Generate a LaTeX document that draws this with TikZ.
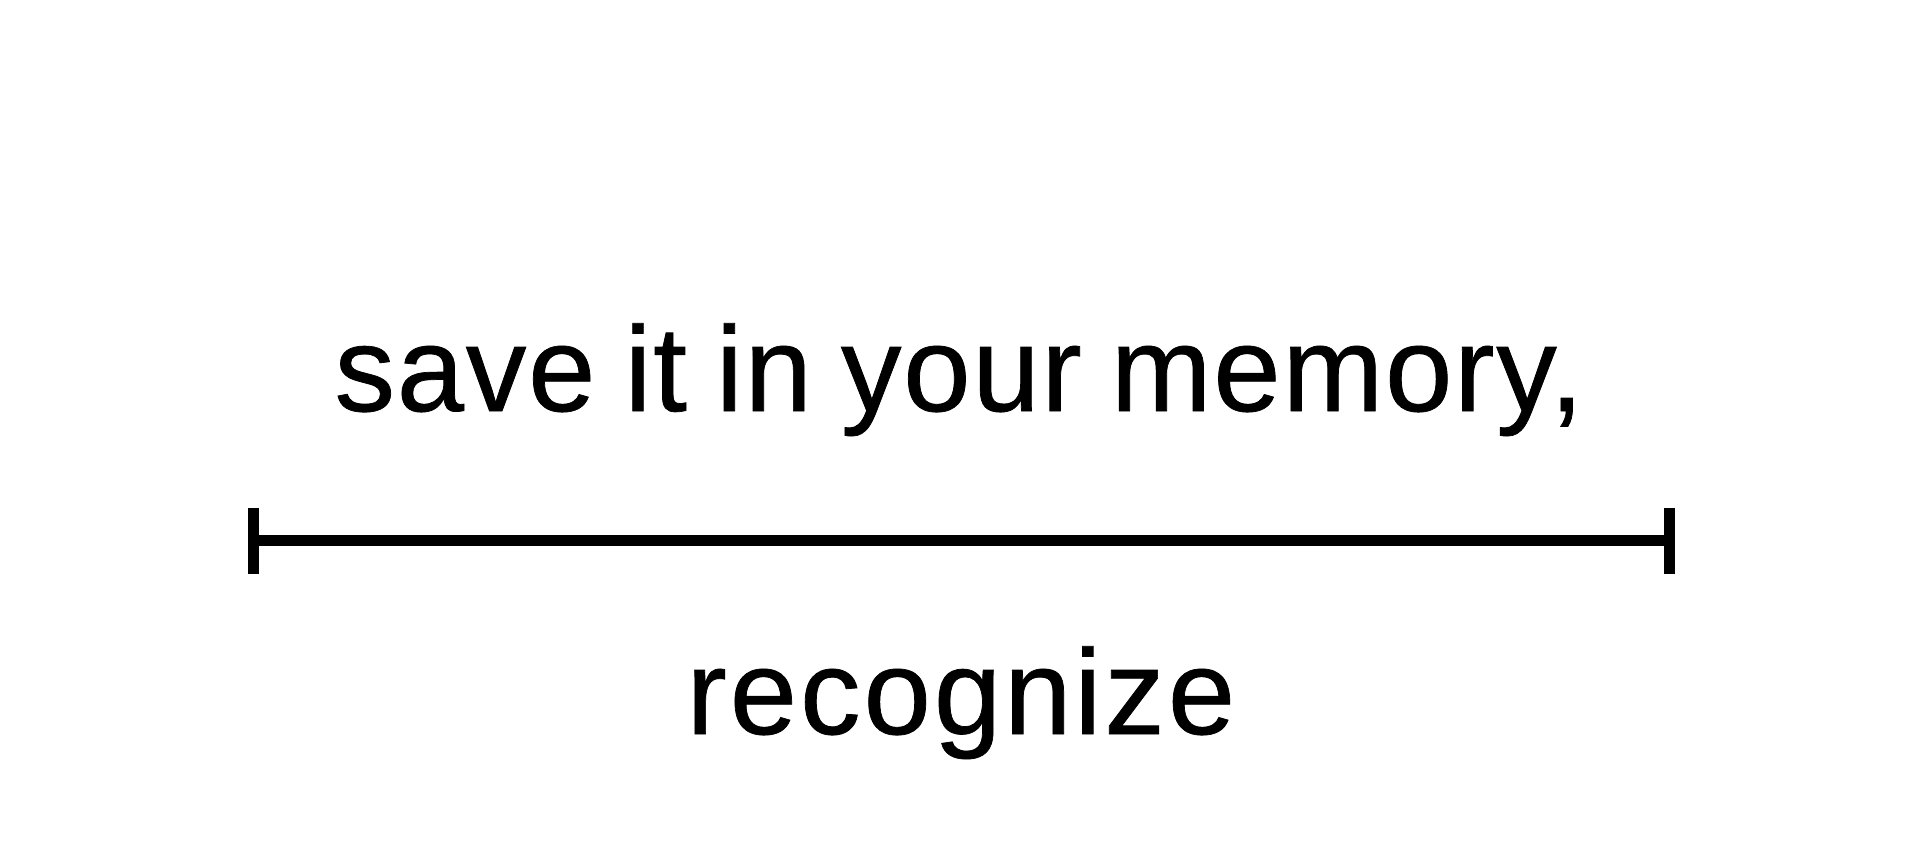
\documentclass[tikz,border=0pt]{standalone}
\usepackage{fontspec}
\setmainfont{Liberation Sans}[FakeBold=0.6,LetterSpace=1.5,WordSpace=0.82]
\newfontfamily\widefont{Liberation Sans}[FakeBold=0.6,LetterSpace=2.5]
\begin{document}
\begin{tikzpicture}[x=1pt,y=-1pt,
  lbl/.style={anchor=base,inner sep=0pt,font=\fontsize{121}{130}\selectfont},
  bar/.style={line width=11pt},
  tick/.style={line width=11pt}]
\useasboundingbox (0,0) rectangle (1921,859);
\node[lbl] (top) at (959,411) {save it in your memory,};
\node[lbl,font=\widefont\fontsize{121}{130}\selectfont] (bot) at (961,734) {recognize};
\coordinate (L) at (253.5,540.5);
\coordinate (R) at (1669.5,540.5);
\draw[bar] (L) -- (R);
\draw[tick] ([yshift=33pt]L) -- ([yshift=-33pt]L);
\draw[tick] ([yshift=33pt]R) -- ([yshift=-33pt]R);
\end{tikzpicture}
\end{document}
